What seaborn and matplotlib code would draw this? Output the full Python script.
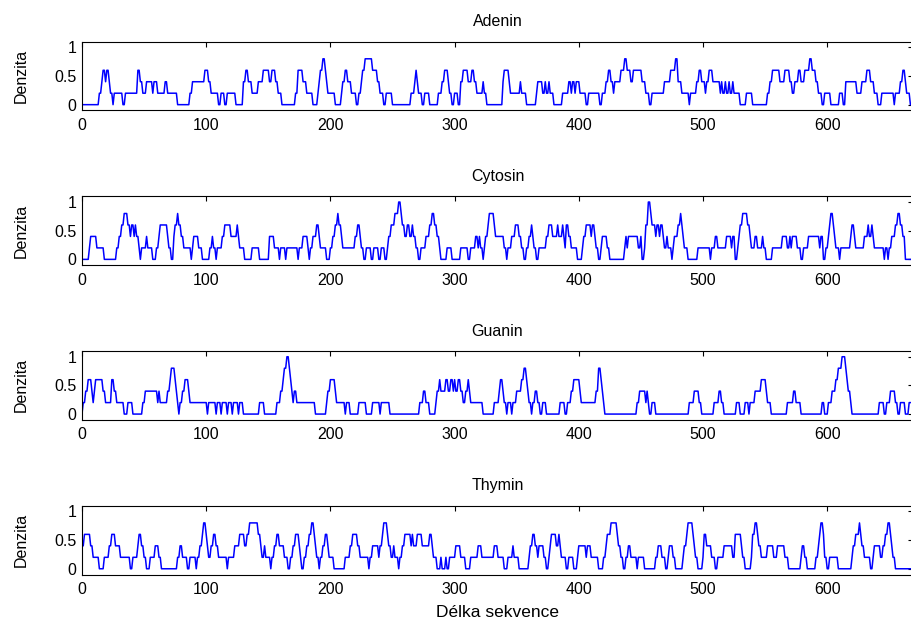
import numpy as np
import pandas as pd
import matplotlib
matplotlib.use("Agg")
import matplotlib.pyplot as plt
import seaborn as sns

# delka sekvence (pocet pozic)
seq_len = 669

# hustota v okne 5 bazi: (pozice od ktere plati, pocet bazi v okne 0..5)
adenin = [(0, 0), (14, 1), (16, 2), (17, 3), (19, 2), (20, 3), (22, 2), (23, 1), (25, 0), (26, 1), (33, 0), (35, 1),
          (45, 3), (47, 2), (49, 1), (52, 2), (57, 1), (58, 2), (61, 1), (67, 2), (69, 1), (77, 0), (87, 1), (89, 2),
          (99, 3), (102, 2), (104, 1), (110, 0), (112, 1), (115, 0), (117, 1), (124, 0), (130, 2), (132, 3), (134, 2),
          (137, 1), (142, 2), (146, 3), (151, 2), (153, 3), (156, 2), (158, 1), (161, 0), (172, 1), (174, 3), (178, 2),
          (181, 1), (186, 0), (190, 1), (191, 2), (192, 3), (194, 4), (196, 3), (197, 2), (198, 1), (204, 0), (209, 1),
          (210, 2), (212, 3), (214, 2), (217, 1), (221, 0), (223, 1), (225, 2), (226, 3), (228, 4), (234, 3), (238, 2),
          (240, 1), (243, 0), (245, 1), (250, 0), (265, 1), (268, 2), (269, 3), (270, 2), (271, 1), (274, 0), (276, 1),
          (280, 0), (287, 1), (290, 2), (292, 3), (295, 2), (296, 1), (298, 0), (300, 1), (303, 0), (305, 2), (307, 3),
          (311, 2), (314, 3), (316, 2), (318, 1), (323, 2), (324, 1), (326, 0), (339, 2), (340, 3), (344, 2), (345, 1),
          (353, 2), (354, 1), (358, 0), (366, 1), (367, 2), (371, 1), (373, 2), (374, 1), (376, 2), (377, 1), (380, 0),
          (387, 1), (392, 2), (394, 1), (395, 2), (397, 1), (398, 2), (401, 1), (406, 0), (408, 1), (417, 0), (419, 1),
          (422, 2), (424, 3), (426, 2), (428, 1), (429, 2), (434, 3), (437, 4), (439, 3), (442, 2), (444, 3), (451, 2),
          (454, 1), (457, 0), (459, 1), (469, 2), (474, 3), (478, 4), (480, 2), (483, 1), (489, 0), (490, 1), (495, 2),
          (497, 3), (499, 2), (502, 1), (503, 2), (505, 3), (508, 2), (514, 1), (515, 2), (516, 1), (518, 2), (519, 1),
          (521, 2), (522, 1), (524, 2), (525, 1), (530, 0), (535, 1), (540, 0), (552, 1), (554, 2), (556, 3), (562, 2),
          (566, 3), (570, 2), (572, 1), (574, 2), (577, 3), (579, 2), (582, 3), (586, 4), (588, 3), (591, 2), (593, 1),
          (596, 0), (598, 1), (603, 0), (610, 1), (613, 0), (615, 2), (624, 1), (628, 2), (632, 3), (635, 2), (638, 1),
          (641, 0), (644, 1), (654, 0), (655, 1), (659, 2), (661, 3), (663, 2), (664, 1), (667, 0)]

cytosin = [(0, 0), (6, 1), (7, 2), (12, 1), (18, 0), (28, 1), (30, 2), (32, 3), (34, 4), (37, 3), (39, 2), (40, 3),
           (42, 2), (43, 3), (44, 2), (46, 1), (47, 0), (48, 1), (52, 2), (53, 1), (57, 0), (60, 1), (62, 2), (63, 3),
           (69, 2), (70, 1), (72, 0), (74, 2), (75, 3), (77, 4), (78, 3), (80, 2), (82, 1), (88, 0), (89, 1), (90, 2),
           (94, 1), (97, 0), (103, 1), (105, 2), (106, 1), (108, 0), (109, 1), (113, 2), (115, 3), (120, 2), (125, 3),
           (126, 2), (127, 1), (131, 0), (137, 1), (143, 0), (151, 2), (155, 1), (159, 0), (160, 1), (164, 0), (165, 1),
           (174, 0), (175, 1), (178, 2), (182, 1), (183, 0), (184, 1), (186, 2), (189, 3), (191, 2), (192, 1), (197, 0),
           (200, 1), (202, 2), (204, 3), (206, 4), (207, 3), (209, 2), (210, 1), (220, 2), (222, 3), (224, 2), (225, 1),
           (227, 0), (229, 1), (233, 0), (235, 1), (239, 0), (241, 1), (244, 0), (246, 1), (247, 2), (249, 3), (252, 4),
           (255, 5), (257, 4), (258, 3), (260, 2), (262, 3), (264, 2), (266, 3), (267, 2), (269, 1), (271, 0), (273, 1),
           (277, 2), (280, 3), (282, 4), (284, 3), (286, 2), (288, 1), (289, 0), (294, 1), (298, 0), (305, 1), (311, 0),
           (313, 1), (317, 2), (319, 1), (320, 2), (321, 1), (323, 0), (324, 1), (325, 2), (327, 3), (328, 4), (332, 3),
           (333, 2), (340, 1), (342, 0), (343, 1), (346, 2), (349, 3), (352, 2), (354, 1), (356, 0), (358, 1), (360, 2),
           (362, 3), (363, 2), (364, 1), (366, 0), (368, 1), (374, 2), (376, 3), (379, 2), (383, 3), (384, 2), (387, 3),
           (388, 2), (389, 1), (390, 3), (392, 2), (394, 1), (399, 0), (403, 1), (404, 2), (406, 3), (410, 2), (411, 3),
           (413, 2), (414, 1), (416, 0), (418, 1), (419, 2), (423, 1), (425, 0), (437, 1), (438, 2), (439, 1), (440, 2),
           (448, 1), (450, 2), (451, 0), (453, 1), (454, 3), (456, 5), (458, 4), (459, 3), (462, 2), (463, 3), (465, 2),
           (466, 3), (468, 2), (469, 1), (471, 2), (472, 1), (475, 0), (476, 1), (477, 2), (480, 3), (482, 4), (483, 3),
           (484, 2), (485, 1), (488, 0), (496, 1), (506, 0), (507, 1), (510, 2), (512, 1), (519, 2), (523, 1), (524, 2),
           (526, 0), (528, 1), (529, 2), (530, 3), (532, 4), (536, 3), (538, 2), (539, 1), (542, 2), (544, 1), (548, 2),
           (549, 1), (551, 0), (556, 1), (564, 2), (568, 1), (570, 2), (571, 1), (572, 2), (576, 1), (579, 0), (581, 1),
           (585, 2), (594, 1), (595, 2), (597, 0), (599, 1), (601, 2), (602, 3), (603, 4), (605, 3), (606, 2), (607, 1),
           (610, 0), (611, 1), (619, 2), (620, 3), (622, 2), (623, 1), (630, 2), (633, 3), (634, 2), (636, 3), (637, 2),
           (638, 1), (646, 0), (647, 1), (649, 0), (650, 1), (652, 2), (655, 3), (657, 4), (659, 3), (661, 2), (663, 0)]

guanin = [(0, 0), (1, 1), (3, 2), (5, 3), (8, 2), (9, 1), (10, 2), (11, 3), (17, 2), (19, 1), (24, 3), (26, 2),
          (28, 1), (34, 0), (37, 1), (41, 0), (49, 1), (51, 2), (61, 1), (62, 2), (63, 1), (69, 2), (71, 3), (72, 4),
          (75, 3), (76, 2), (77, 1), (78, 0), (79, 1), (81, 2), (83, 3), (86, 2), (87, 1), (98, 1), (101, 0), (102, 1),
          (108, 0), (109, 1), (112, 0), (113, 1), (117, 0), (118, 1), (121, 0), (122, 1), (126, 0), (127, 1), (130, 0),
          (143, 1), (147, 0), (157, 1), (160, 2), (162, 3), (163, 4), (165, 5), (167, 4), (168, 3), (169, 2), (170, 1),
          (171, 2), (173, 1), (188, 0), (197, 1), (198, 2), (200, 3), (204, 2), (205, 1), (212, 0), (213, 1), (216, 0),
          (223, 1), (229, 0), (234, 1), (240, 0), (241, 1), (248, 0), (272, 1), (275, 2), (277, 1), (280, 0), (285, 1),
          (286, 2), (288, 3), (289, 2), (293, 3), (295, 2), (297, 3), (299, 2), (300, 3), (301, 2), (303, 3), (305, 2),
          (307, 1), (309, 2), (311, 3), (312, 2), (313, 1), (323, 0), (332, 1), (336, 2), (337, 3), (339, 2), (340, 1),
          (342, 0), (343, 1), (346, 0), (347, 1), (350, 2), (354, 3), (356, 4), (358, 3), (359, 2), (360, 1), (362, 0),
          (363, 1), (365, 2), (367, 1), (369, 0), (371, 1), (374, 0), (385, 1), (389, 0), (391, 1), (394, 2), (396, 3),
          (401, 2), (402, 1), (414, 2), (416, 4), (418, 3), (419, 2), (420, 1), (421, 0), (447, 1), (449, 2), (454, 1),
          (455, 2), (456, 1), (457, 0), (459, 1), (462, 0), (489, 1), (493, 2), (497, 1), (499, 0), (509, 1), (513, 2),
          (515, 1), (517, 0), (527, 1), (530, 0), (534, 1), (537, 0), (538, 1), (542, 2), (547, 3), (551, 2), (552, 1),
          (555, 0), (568, 1), (573, 2), (575, 1), (579, 0), (596, 1), (598, 0), (601, 1), (604, 2), (607, 3), (609, 4),
          (612, 5), (615, 4), (616, 3), (617, 2), (619, 1), (620, 0), (642, 1), (646, 0), (648, 1), (651, 2), (655, 1),
          (657, 0), (659, 1), (663, 0), (666, 1)]

thymin = [(0, 2), (2, 3), (7, 2), (9, 1), (14, 0), (18, 1), (22, 2), (24, 3), (27, 2), (31, 1), (39, 0), (41, 1),
          (45, 2), (46, 3), (48, 2), (50, 1), (52, 0), (55, 1), (59, 2), (62, 1), (64, 0), (77, 1), (79, 2), (81, 1),
          (85, 0), (87, 1), (92, 0), (93, 1), (95, 2), (97, 3), (98, 4), (100, 3), (101, 2), (102, 1), (104, 2),
          (106, 3), (108, 2), (110, 1), (117, 0), (118, 1), (123, 2), (127, 3), (131, 2), (133, 3), (135, 4), (142, 3),
          (144, 2), (145, 1), (147, 2), (148, 1), (152, 0), (153, 1), (155, 2), (157, 3), (159, 2), (163, 1), (166, 0),
          (168, 1), (170, 2), (172, 3), (175, 2), (176, 1), (177, 0), (179, 1), (181, 2), (183, 3), (185, 4), (187, 3),
          (188, 2), (189, 1), (191, 0), (192, 1), (194, 2), (196, 3), (198, 2), (199, 1), (203, 0), (212, 1), (216, 2),
          (218, 3), (222, 2), (224, 1), (231, 0), (232, 1), (234, 2), (239, 1), (240, 2), (242, 3), (243, 4), (246, 3),
          (247, 2), (249, 1), (251, 2), (252, 1), (255, 0), (256, 1), (258, 2), (260, 3), (265, 2), (266, 3), (267, 2),
          (270, 3), (274, 2), (280, 3), (282, 2), (283, 1), (286, 0), (289, 1), (290, 0), (293, 1), (294, 0), (296, 1),
          (301, 2), (305, 1), (309, 0), (313, 1), (319, 2), (322, 1), (332, 2), (335, 1), (340, 0), (343, 1), (347, 2),
          (348, 1), (352, 0), (360, 1), (361, 2), (363, 3), (365, 2), (367, 1), (368, 2), (372, 1), (374, 0), (376, 1),
          (377, 2), (378, 3), (382, 2), (384, 3), (385, 2), (386, 1), (390, 0), (392, 1), (396, 0), (399, 1), (400, 2),
          (406, 1), (407, 2), (410, 1), (416, 0), (420, 1), (422, 2), (423, 3), (426, 4), (431, 3), (432, 2), (434, 1),
          (436, 0), (438, 1), (440, 2), (442, 1), (447, 0), (448, 1), (453, 0), (462, 1), (464, 2), (467, 1), (470, 0),
          (472, 1), (473, 2), (476, 1), (478, 0), (484, 1), (485, 2), (487, 3), (488, 4), (492, 3), (493, 2), (494, 1),
          (496, 0), (500, 1), (501, 3), (503, 2), (507, 1), (510, 0), (512, 1), (517, 2), (524, 1), (526, 3), (531, 2),
          (532, 1), (534, 0), (539, 1), (540, 3), (542, 4), (544, 3), (545, 2), (547, 1), (552, 2), (557, 1), (560, 2),
          (566, 1), (569, 0), (579, 1), (580, 2), (582, 1), (584, 0), (591, 1), (593, 2), (594, 3), (595, 4), (597, 3),
          (598, 1), (600, 0), (602, 1), (609, 0), (620, 1), (621, 2), (623, 3), (626, 4), (627, 3), (628, 2), (630, 1),
          (635, 0), (637, 1), (638, 2), (643, 1), (645, 2), (647, 3), (649, 4), (651, 3), (652, 2), (653, 1), (655, 0)]

names = ["Adenin", "Cytosin", "Guanin", "Thymin"]
x_ticks = [0, 100, 200, 300, 400, 500, 600]
y_ticks = [0, 0.5, 1]


def expand(breaks):
    starts = np.array([b[0] for b in breaks])
    counts = np.array([b[1] for b in breaks])
    pos = np.arange(seq_len)
    idx = np.searchsorted(starts, pos, side="right") - 1
    return pos, counts[idx] / 5.0


frames = []
for name, breaks in zip(names, [adenin, cytosin, guanin, thymin]):
    pos, dens = expand(breaks)
    frames.append(pd.DataFrame({"pozice": pos, "denzita": dens, "baze": name}))
df = pd.concat(frames, ignore_index=True)

sns.set_style("white")
plt.rcParams["font.family"] = ["Liberation Sans", "DejaVu Sans"]
plt.rcParams["font.size"] = 11.5
plt.rcParams["text.color"] = "black"
plt.rcParams["axes.labelcolor"] = "black"
plt.rcParams["xtick.direction"] = "in"
plt.rcParams["ytick.direction"] = "in"

W, H = 912, 623
fig = plt.figure(figsize=(W / 100, H / 100), dpi=100)

left_px, right_px = 82, 913
top0, ax_h, step = 41.6, 68.8, 154.7

for i, name in enumerate(names):
    top = top0 + i * step
    ax = fig.add_axes([left_px / W, 1 - (top + ax_h) / H, (right_px - left_px) / W, ax_h / H])
    sns.lineplot(data=df[df["baze"] == name], x="pozice", y="denzita", color="#0000ff",
                 linewidth=1.1, ax=ax, estimator=None)
    ax.set_xlim(0, (right_px - left_px) / 1.242)
    ax.set_ylim(-0.1, 1.1)
    ax.set_xticks(x_ticks)
    ax.set_yticks(y_ticks)
    ax.set_yticklabels(["0", "0.5", "1"])
    ax.tick_params(axis="x", pad=5.5)
    ax.tick_params(axis="y", pad=4)
    ax.tick_params(top=True, right=True, length=3.5, width=0.8, colors="black", labelsize=11.5)
    for sp in ax.spines.values():
        sp.set_color("black")
        sp.set_linewidth(0.8)
        sp.set_visible(True)
    ax.set_title(name, fontsize=11.5, pad=11)
    ax.set_ylabel("Denzita", fontsize=11.5)
    ax.yaxis.set_label_coords(-0.064, 0.5)
    if i == 3:
        ax.set_xlabel("Délka sekvence", fontsize=12.5, labelpad=6)
    else:
        ax.set_xlabel("")

fig.savefig("out.png", dpi=100)
